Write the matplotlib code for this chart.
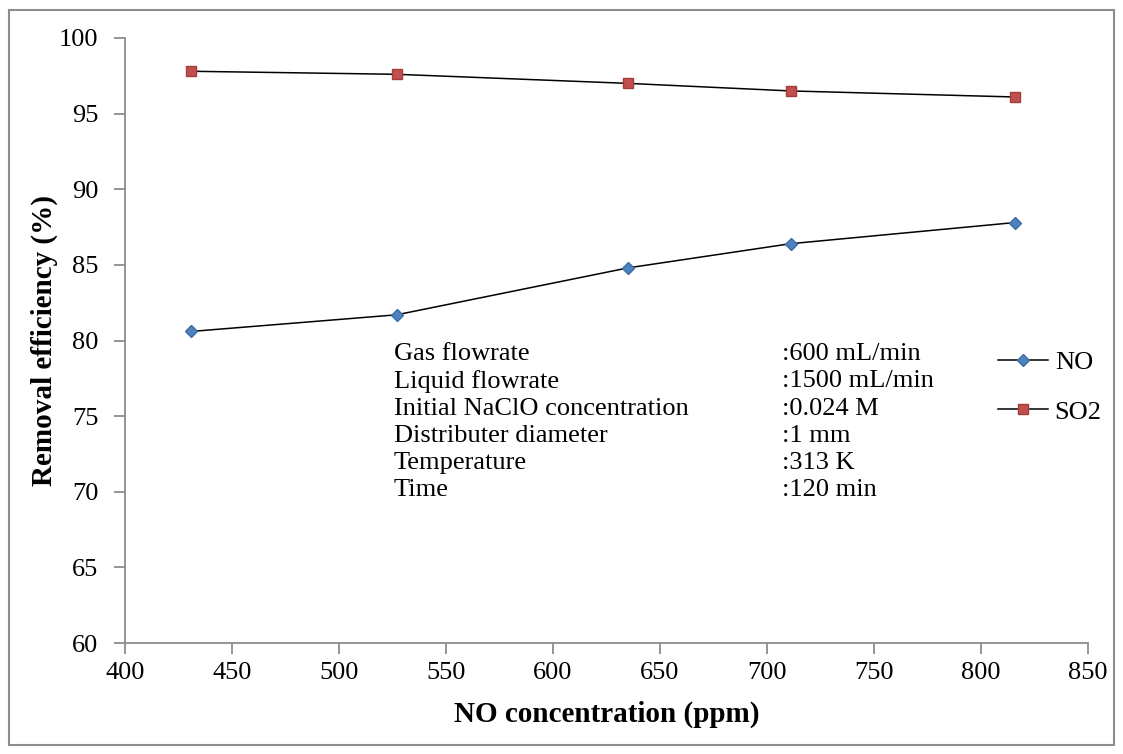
import matplotlib
matplotlib.use("Agg")
import matplotlib.pyplot as plt
from matplotlib.patches import Rectangle

plt.rcParams['font.family'] = ['Liberation Serif', 'DejaVu Serif']

# data
no_conc = [431, 527, 635, 711, 816]
no_removal = [80.6, 81.7, 84.8, 86.4, 87.8]
so2_removal = [97.8, 97.6, 97.0, 96.5, 96.1]

cond_names = ["Gas flowrate", "Liquid flowrate", "Initial NaClO concentration",
              "Distributer diameter", "Temperature", "Time"]
cond_values = [":600 mL/min", ":1500 mL/min", ":0.024 M", ":1 mm", ":313 K", ":120 min"]

W, H = 1123, 754
fig = plt.figure(figsize=(W / 100, H / 100), dpi=100)
ax = fig.add_axes([125 / W, 1 - 643 / H, (1088 - 125) / W, (643 - 38) / H])

ax.plot(no_conc, no_removal, color='black', lw=1.1, marker='D', ms=6.5,
        mfc='#4F81BD', mec='#3A6EA5', label='NO', zorder=3)
ax.plot(no_conc, so2_removal, color='black', lw=1.1, marker='s', ms=7.5,
        mfc='#C0504D', mec='#A63C39', label='SO2', zorder=3)

ax.set_xlim(400, 850)
ax.set_ylim(60, 100)
ax.set_xticks(range(400, 851, 50))
ax.set_yticks(range(60, 101, 5))

grey = '#8C8C8C'
for s in ['top', 'right']:
    ax.spines[s].set_visible(False)
for s in ['left', 'bottom']:
    ax.spines[s].set_color(grey)
    ax.spines[s].set_linewidth(1.3)
ax.tick_params(direction='out', length=8, width=1.3, color=grey, labelsize=19, pad=6)
ax.tick_params(axis='y', pad=11)

ax.set_xlabel("NO concentration (ppm)", fontsize=21, fontweight='bold', labelpad=12)
ax.set_ylabel("Removal efficiency (%)", fontsize=21, fontweight='bold')
ax.yaxis.set_label_coords(-0.07, 0.5)

# experimental conditions
y0 = 354
for i, (n, v) in enumerate(zip(cond_names, cond_values)):
    yy = 1 - (y0 + i * 27.3) / H
    fig.text(394 / W, yy, n, fontsize=19, va='center', ha='left')
    fig.text(782 / W, yy, v, fontsize=19, va='center', ha='left')

leg = ax.legend(loc='center left', bbox_to_anchor=(998 / W, 1 - 387 / H),
                bbox_transform=fig.transFigure, frameon=False, fontsize=19,
                handlelength=1.9, handletextpad=0.25, labelspacing=1.0,
                borderaxespad=0, borderpad=0)

# outer border
fig.patches.append(Rectangle((9 / W, 9 / H), 1 - 18 / W, 1 - 19 / H,
                             transform=fig.transFigure, fill=False,
                             edgecolor=grey, lw=1.5))

fig.savefig("out.png", dpi=100)
